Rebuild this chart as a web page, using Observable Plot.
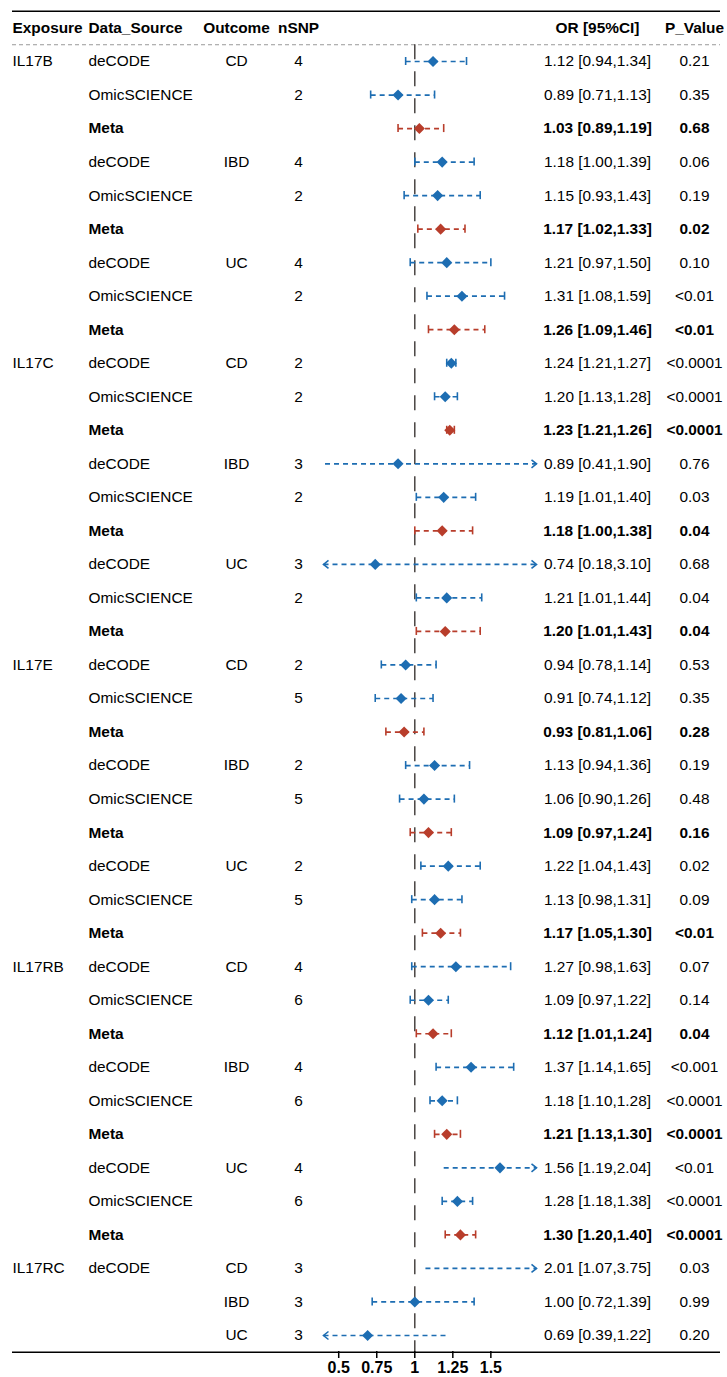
<!DOCTYPE html>
<html>
<head>
<meta charset="utf-8">
<script src="https://cdn.jsdelivr.net/npm/d3@7"></script>
<script src="https://cdn.jsdelivr.net/npm/@observablehq/plot@0.6"></script>
<style>
  html, body { margin: 0; padding: 0; background: white; }
</style>
</head>
<body>
<div id="chart"></div>
<script>
const exposure = ["IL17B","","","","","","","","",
  "IL17C","","","","","","","","",
  "IL17E","","","","","","","","",
  "IL17RB","","","","","","","","",
  "IL17RC","",""];
const dataSource = ["deCODE","OmicSCIENCE","Meta","deCODE","OmicSCIENCE","Meta","deCODE","OmicSCIENCE","Meta",
  "deCODE","OmicSCIENCE","Meta","deCODE","OmicSCIENCE","Meta","deCODE","OmicSCIENCE","Meta",
  "deCODE","OmicSCIENCE","Meta","deCODE","OmicSCIENCE","Meta","deCODE","OmicSCIENCE","Meta",
  "deCODE","OmicSCIENCE","Meta","deCODE","OmicSCIENCE","Meta","deCODE","OmicSCIENCE","Meta",
  "deCODE","",""];
const outcome = ["CD","","","IBD","","","UC","","",
  "CD","","","IBD","","","UC","","",
  "CD","","","IBD","","","UC","","",
  "CD","","","IBD","","","UC","","",
  "CD","IBD","UC"];
const nSNP = ["4","2","","4","2","","4","2","",
  "2","2","","3","2","","3","2","",
  "2","5","","2","5","","2","5","",
  "4","6","","4","6","","4","6","",
  "3","3","3"];
const orValue = [1.12,0.89,1.03,1.18,1.15,1.17,1.21,1.31,1.26,
  1.24,1.20,1.23,0.89,1.19,1.18,0.74,1.21,1.20,
  0.94,0.91,0.93,1.13,1.06,1.09,1.22,1.13,1.17,
  1.27,1.09,1.12,1.37,1.18,1.21,1.56,1.28,1.30,
  2.01,1.00,0.69];
const ciLower = [0.94,0.71,0.89,1.00,0.93,1.02,0.97,1.08,1.09,
  1.21,1.13,1.21,0.41,1.01,1.00,0.18,1.01,1.01,
  0.78,0.74,0.81,0.94,0.90,0.97,1.04,0.98,1.05,
  0.98,0.97,1.01,1.14,1.10,1.13,1.19,1.18,1.20,
  1.07,0.72,0.39];
const ciUpper = [1.34,1.13,1.19,1.39,1.43,1.33,1.50,1.59,1.46,
  1.27,1.28,1.26,1.90,1.40,1.38,3.10,1.44,1.43,
  1.14,1.12,1.06,1.36,1.26,1.24,1.43,1.31,1.30,
  1.63,1.22,1.24,1.65,1.28,1.30,2.04,1.38,1.40,
  3.75,1.39,1.22];
const pValue = ["0.21","0.35","0.68","0.06","0.19","0.02","0.10","<0.01","<0.01",
  "<0.0001","<0.0001","<0.0001","0.76","0.03","0.04","0.68","0.04","0.04",
  "0.53","0.35","0.28","0.19","0.48","0.16","0.02","0.09","<0.01",
  "0.07","0.14","0.04","<0.001","<0.0001","<0.0001","<0.01","<0.0001","<0.0001",
  "0.03","0.99","0.20"];
const headers = {exposure:"Exposure", source:"Data_Source", outcome:"Outcome", nsnp:"nSNP", ci:"OR [95%CI]", p:"P_Value"};
const xTicks = [0.5, 0.75, 1, 1.25, 1.5];
const xLimits = [0.4, 1.8];

const blue = "#1d6db2";
const red = "#b83d2b";
const fmt = v => v.toFixed(2);

const rows = orValue.map((v, i) => {
  const lo = ciLower[i], hi = ciUpper[i];
  const meta = dataSource[i] === "Meta";
  return {
    i, exposure: exposure[i], source: dataSource[i], outcome: outcome[i], nsnp: nSNP[i],
    or: v, lo, hi, p: pValue[i], meta,
    ci: `${fmt(v)} [${fmt(lo)},${fmt(hi)}]`,
    color: meta ? red : blue,
    x1: Math.max(lo, xLimits[0]), x2: Math.min(hi, xLimits[1]),
    arrowL: lo < xLimits[0], arrowR: hi > xLimits[1]
  };
});
const headerRow = [{i: -1, ...headers}];
const normalRows = rows.filter(d => !d.meta);
const metaRows = rows.filter(d => d.meta);

const caps = [];
rows.forEach(d => {
  if (!d.arrowL && !d.arrowR) {
    caps.push({i: d.i, x: d.lo, color: d.color});
    caps.push({i: d.i, x: d.hi, color: d.color});
  }
});
const arrowsR = rows.filter(d => d.arrowR);
const arrowsL = rows.filter(d => d.arrowL);
const pointsIn = rows.filter(d => d.or >= xLimits[0] && d.or <= xLimits[1]);

const chevronRight = { draw(ctx) { ctx.moveTo(-5, -4); ctx.lineTo(0, 0); ctx.lineTo(-5, 4); } };
const chevronLeft = { draw(ctx) { ctx.moveTo(5, -4); ctx.lineTo(0, 0); ctx.lineTo(5, 4); } };

const columns = [
  {key: "exposure", dx: 12, anchor: "start"},
  {key: "source", dx: 88, anchor: "start"},
  {key: "outcome", dx: 236, anchor: "middle"},
  {key: "nsnp", dx: 298, anchor: "middle"},
  {key: "ci", dx: 597, anchor: "middle"},
  {key: "p", dx: 694, anchor: "middle"}
];
const boldKeys = new Set(["source", "ci", "p"]);

const textMarks = [];
columns.forEach(c => {
  textMarks.push(Plot.text(headerRow, {frameAnchor: "left", dx: c.dx, y: "i", text: c.key, textAnchor: c.anchor, fontWeight: "bold", fill: "black"}));
  textMarks.push(Plot.text(normalRows, {frameAnchor: "left", dx: c.dx, y: "i", text: c.key, textAnchor: c.anchor, fill: "black"}));
  textMarks.push(Plot.text(metaRows, {frameAnchor: "left", dx: c.dx, y: "i", text: c.key, textAnchor: c.anchor, fill: "black", fontWeight: boldKeys.has(c.key) ? "bold" : "normal"}));
});

const n = rows.length;
const chart = Plot.plot({
  width: 727,
  height: 1377,
  marginLeft: 0, marginRight: 0, marginTop: 0, marginBottom: 26,
  x: {domain: xLimits, range: [323, 536]},
  y: {domain: [0, n - 1], range: [61, 1335], axis: null},
  style: {fontFamily: "'Liberation Sans', Arial, Helvetica, sans-serif", fontSize: "15.4px", background: "white", color: "black"},
  marks: [
    Plot.ruleY([-1.5, n - 0.5], {insetLeft: 12, insetRight: 7, stroke: "black", strokeWidth: 1.6}),
    Plot.ruleY([-0.5], {insetLeft: 12, insetRight: 7, stroke: "#9a9a9a", strokeWidth: 1, strokeDasharray: "4,3"}),
    Plot.ruleX([1], {y1: -0.5, y2: n - 0.5, stroke: "#4a4543", strokeWidth: 1.5, strokeDasharray: "15,12"}),
    Plot.link(rows, {x1: "x1", x2: "x2", y1: "i", y2: "i", stroke: "color", strokeWidth: 1.7, strokeDasharray: "5,4"}),
    Plot.ruleX(caps, {x: "x", y1: d => d.i - 0.12, y2: d => d.i + 0.12, stroke: "color", strokeWidth: 1.6}),
    Plot.dot(arrowsR, {x: "x2", y: "i", symbol: chevronRight, stroke: "color", fill: "none", strokeWidth: 1.6}),
    Plot.dot(arrowsL, {x: "x1", y: "i", symbol: chevronLeft, stroke: "color", fill: "none", strokeWidth: 1.6}),
    Plot.dot(pointsIn, {x: "or", y: "i", symbol: "diamond2", r: 5, fill: "color", stroke: "none"}),
    ...textMarks,
    Plot.axisX({ticks: xTicks, tickFormat: d => String(d), tickSize: 7, stroke: "black", strokeWidth: 1.5, fontWeight: "bold", fontSize: 16, label: null, tickPadding: 3})
  ]
});
document.getElementById("chart").appendChild(chart);
</script>
</body>
</html>
